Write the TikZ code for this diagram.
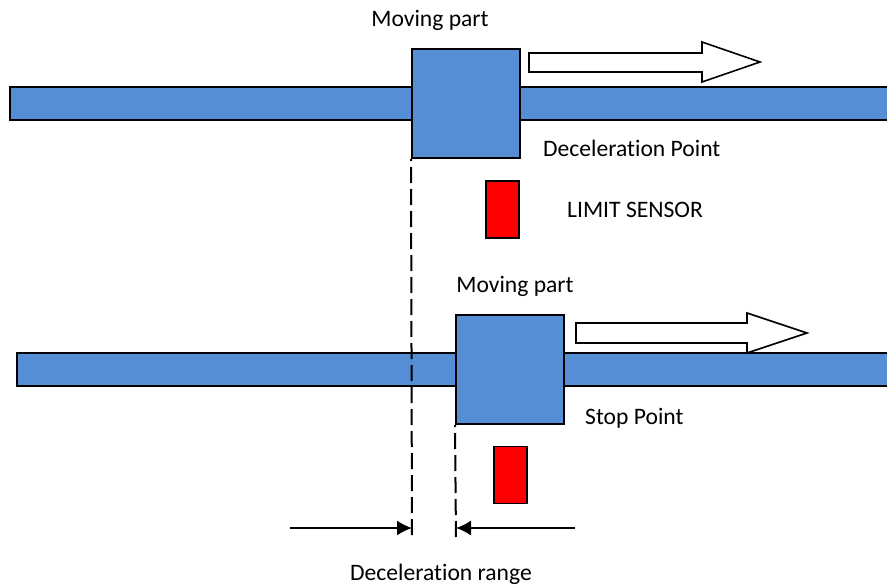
\documentclass[tikz,border=0pt]{standalone}
\usepackage{fontspec}
\setmainfont{Carlito}[Ligatures={NoCommon}]
\usetikzlibrary{arrows.meta,positioning}

\definecolor{shaftblue}{RGB}{85,142,213}
\tikzset{
    shaft/.style={draw=black, line width=1.2pt, fill=shaftblue},
    movbox/.style={draw=black, line width=2pt, fill=shaftblue, minimum width=108pt, minimum height=109pt, inner sep=0pt},
    sensor/.style={draw=black, line width=1.2pt, fill=red, minimum width=33pt, minimum height=57pt, inner sep=0pt},
    bigarrow/.style={draw=black, line width=1.6pt, fill=white},
    lbl/.style={font=\fontsize{23.6}{28}\selectfont, inner sep=0pt},
    dimline/.style={line width=1.6pt, -{Latex[length=15pt,width=15pt]}},
    guide/.style={line width=2pt, dash pattern=on 16pt off 6pt, dash phase=-8pt}
}

\begin{document}
\begin{tikzpicture}[x=1pt,y=-1pt]
    \useasboundingbox (0,0) rectangle (887,586);

    % upper shaft and moving part
    \draw[shaft] (10,87) rectangle (895,120);
    \node[movbox] (box1) at (466,103.5) {};
    \node[lbl] (mov1) at (430,20) {Moving part};
    \draw[bigarrow] (529,53) -- (702,53) -- (702,42) -- (760,62) -- (702,82) -- (702,72) -- (529,72) -- cycle;
    \node[lbl, anchor=west] (decpt) at (543,148) {Deceleration Point};

    % upper limit sensor
    \node[sensor] (sens1) at (502.5,209.5) {};
    \node[lbl, anchor=west] (sensname) at (567,210) {LIMIT SENSOR};

    % lower shaft and moving part
    \draw[shaft] (17,353) rectangle (895,386);
    \node[lbl] (mov2) at (515,286) {Moving part};
    \draw[bigarrow] (576,323) -- (747,323) -- (747,313) -- (807,333) -- (747,353) -- (747,343) -- (576,343) -- cycle;
    \node[movbox] (box2) at (510,369.5) {};
    \node[lbl, anchor=west] (stoppt) at (585,418) {Stop Point};

    % lower limit sensor
    \node[sensor] (sens2) at (510.5,475) {};

    % deceleration range
    \coordinate (g1) at (412,540);
    \coordinate (g2) at (456,540);
    \draw[guide] (box1.south west) -- (g1);
    \draw[guide] (box2.south west) -- (g2);
    \coordinate (a1) at (290,528);
    \coordinate (a2) at (575,528);
    \draw[dimline] (a1) -- (a1 -| g1);
    \draw[dimline] (a2) -- (a2 -| g2);
    \node[lbl] (range) at (441,574) {Deceleration range};
\end{tikzpicture}
\end{document}
